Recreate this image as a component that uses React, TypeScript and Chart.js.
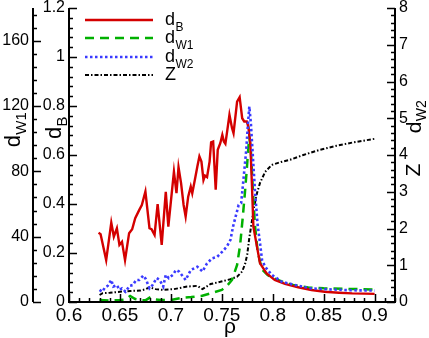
import React, { useEffect, useRef } from "react";
import { Chart, registerables } from "chart.js";

Chart.register(...registerables);

// ---- data ----
const rhoB = [0.629, 0.631, 0.6365, 0.6415, 0.644, 0.647, 0.6495, 0.652, 0.655, 0.659, 0.662, 0.665, 0.669, 0.6715, 0.675, 0.679, 0.681, 0.684, 0.687, 0.691, 0.695, 0.6975, 0.7, 0.703, 0.7055, 0.7075, 0.71, 0.7125, 0.7145, 0.717, 0.7195, 0.721, 0.7235, 0.726, 0.728, 0.73, 0.732, 0.7335, 0.7355, 0.738, 0.7395, 0.7415, 0.744, 0.746, 0.7485, 0.7505, 0.752, 0.7535, 0.755, 0.7575, 0.76, 0.7615, 0.765, 0.7675, 0.77, 0.772, 0.7745, 0.776, 0.778, 0.7795, 0.781, 0.7845, 0.7875, 0.794, 0.802, 0.812, 0.825, 0.838, 0.851, 0.865, 0.878, 0.89, 0.9];
const dB = [0.283, 0.277, 0.171, 0.324, 0.267, 0.301, 0.233, 0.246, 0.171, 0.281, 0.297, 0.342, 0.376, 0.396, 0.451, 0.301, 0.297, 0.274, 0.4, 0.233, 0.45, 0.308, 0.41, 0.532, 0.444, 0.55, 0.485, 0.396, 0.349, 0.43, 0.471, 0.444, 0.498, 0.553, 0.594, 0.573, 0.498, 0.516, 0.51, 0.573, 0.652, 0.655, 0.458, 0.621, 0.648, 0.682, 0.655, 0.646, 0.689, 0.764, 0.71, 0.689, 0.818, 0.836, 0.75, 0.737, 0.737, 0.716, 0.648, 0.486, 0.308, 0.226, 0.158, 0.117, 0.09, 0.074, 0.06, 0.049, 0.042, 0.038, 0.035, 0.034, 0.033];

const rhoW1 = [0.63, 0.64, 0.65, 0.655, 0.66, 0.665, 0.67, 0.675, 0.68, 0.685, 0.69, 0.7, 0.71, 0.72, 0.73, 0.74, 0.75, 0.755, 0.76, 0.765, 0.768, 0.7705, 0.7725, 0.7745, 0.776, 0.777, 0.7785, 0.7805, 0.7825, 0.785, 0.7875, 0.79, 0.795, 0.8, 0.81, 0.82, 0.835, 0.85, 0.875, 0.9];
const dW1 = [1.2, 0.9, 1.2, 1.5, 3.7, 1.8, 1.2, 1.0, 3.0, 1.5, 1.2, 1.2, 2.5, 3.0, 3.7, 5.5, 7.4, 9.8, 13.5, 22.7, 35, 51.5, 65.6, 81, 94.4, 101, 93, 68.6, 47.2, 31.9, 24.5, 19.6, 16.5, 14.7, 12.3, 10.4, 8.9, 8.4, 8.0, 7.7];

const rhoW2 = [0.63, 0.6325, 0.6355, 0.638, 0.6415, 0.6435, 0.647, 0.6495, 0.652, 0.6555, 0.6595, 0.6625, 0.666, 0.669, 0.673, 0.6755, 0.679, 0.682, 0.686, 0.689, 0.6925, 0.695, 0.698, 0.702, 0.705, 0.708, 0.7145, 0.7195, 0.726, 0.731, 0.7355, 0.7405, 0.7455, 0.7505, 0.755, 0.7585, 0.761, 0.764, 0.7665, 0.769, 0.7715, 0.774, 0.7755, 0.777, 0.7785, 0.7805, 0.7825, 0.785, 0.7875, 0.7895, 0.7925, 0.799, 0.809, 0.822, 0.838, 0.851, 0.875, 0.9];
const dW2 = [0.33, 0.28, 0.4, 0.44, 0.6, 0.42, 0.46, 0.33, 0.37, 0.28, 0.44, 0.46, 0.6, 0.6, 0.72, 0.62, 0.37, 0.46, 0.65, 0.6, 0.42, 0.74, 0.65, 0.74, 0.87, 0.83, 0.6, 0.87, 0.96, 0.83, 1.05, 1.19, 1.23, 1.37, 1.51, 1.69, 2.05, 2.37, 2.64, 2.69, 3.41, 4.14, 4.78, 5.32, 4.87, 3.96, 3.05, 2.14, 1.6, 1.14, 0.96, 0.74, 0.55, 0.46, 0.37, 0.35, 0.32, 0.31];

const rhoZ = [0.63, 0.633, 0.64, 0.65, 0.66, 0.67, 0.6755, 0.679, 0.685, 0.692, 0.703, 0.716, 0.726, 0.731, 0.739, 0.7485, 0.7585, 0.765, 0.77, 0.773, 0.775, 0.777, 0.779, 0.7815, 0.7845, 0.7875, 0.7925, 0.799, 0.808, 0.817, 0.83, 0.846, 0.8625, 0.8785, 0.9];
const zVals = [0.19, 0.24, 0.25, 0.28, 0.3, 0.31, 0.35, 0.4, 0.35, 0.33, 0.35, 0.42, 0.44, 0.35, 0.49, 0.55, 0.62, 0.69, 0.83, 1.05, 1.3, 1.75, 2.1, 2.56, 2.96, 3.24, 3.54, 3.73, 3.81, 3.87, 4.0, 4.14, 4.25, 4.34, 4.44];

// ticks
const xTicks = [0.6, 0.65, 0.7, 0.75, 0.8, 0.85, 0.9];
const dBTicks = [0, 0.2, 0.4, 0.6, 0.8, 1, 1.2];
const dW1Ticks = [0, 40, 80, 120, 160];
const rightTicks = [0, 1, 2, 3, 4, 5, 6, 7, 8];

const FONT = '"Liberation Sans", Arial, Helvetica, sans-serif';

function pts(xs: number[], ys: number[]) {
  return xs.map((x, i) => ({ x, y: ys[i] }));
}

function drawSubText(
  ctx: CanvasRenderingContext2D,
  x: number,
  y: number,
  main: string,
  sub: string,
  size: number,
  rotate: boolean,
  align: "center" | "left"
) {
  ctx.save();
  ctx.translate(x, y);
  if (rotate) ctx.rotate(-Math.PI / 2);
  const subSize = Math.round(size * 0.68);
  ctx.font = `${size}px ${FONT}`;
  const w1 = ctx.measureText(main).width;
  ctx.font = `${subSize}px ${FONT}`;
  const w2 = sub ? ctx.measureText(sub).width : 0;
  const start = align === "center" ? -(w1 + w2) / 2 : 0;
  ctx.textBaseline = "alphabetic";
  ctx.textAlign = "left";
  ctx.fillStyle = "#000";
  ctx.font = `${size}px ${FONT}`;
  ctx.fillText(main, start, size * 0.36);
  if (sub) {
    ctx.font = `${subSize}px ${FONT}`;
    ctx.fillText(sub, start + w1 + 0.5, size * 0.36 + size * 0.28);
  }
  ctx.restore();
}

const decoPlugin = {
  id: "deco",
  afterDraw(chart: any) {
    const ctx: CanvasRenderingContext2D = chart.ctx;
    const { left, right, top, bottom } = chart.chartArea;
    const sx = chart.scales.x;
    const sB = chart.scales.yB;
    const sW = chart.scales.yW1;
    const sR = chart.scales.yR;
    const wLeft = sW.right;
    ctx.save();
    ctx.strokeStyle = "#000";
    ctx.lineCap = "butt";
    // axis lines
    ctx.lineWidth = 2;
    ctx.beginPath();
    ctx.moveTo(left, top);
    ctx.lineTo(left, bottom);
    ctx.moveTo(left - 1, bottom);
    ctx.lineTo(right + 1, bottom);
    ctx.moveTo(right, bottom);
    ctx.lineTo(right, top);
    ctx.moveTo(wLeft, bottom);
    ctx.lineTo(wLeft, top);
    ctx.stroke();

    ctx.lineWidth = 1.5;
    ctx.beginPath();
    // x ticks (inward, up)
    for (let i = 0; i <= 32; i++) {
      const v = 0.6 + i * 0.01;
      const px = Math.round(sx.getPixelForValue(v)) + 0.5;
      const len = i % 5 === 0 ? 8 : 4;
      ctx.moveTo(px, bottom);
      ctx.lineTo(px, bottom - len);
    }
    // d_B ticks (inward, right)
    for (let i = 0; i <= 30; i++) {
      const v = i * 0.04;
      const py = Math.round(sB.getPixelForValue(v)) + 0.5;
      const len = i % 5 === 0 ? 8 : 4;
      ctx.moveTo(left, py);
      ctx.lineTo(left + len, py);
    }
    // d_W1 ticks (right side of its own axis)
    for (let i = 0; i <= 22; i++) {
      const v = i * 8;
      const py = Math.round(sW.getPixelForValue(v)) + 0.5;
      const len = i % 5 === 0 ? 8 : 4;
      ctx.moveTo(wLeft, py);
      ctx.lineTo(wLeft + len, py);
    }
    // right axis ticks (inward, left)
    for (let i = 0; i <= 40; i++) {
      const v = i * 0.2;
      const py = Math.round(sR.getPixelForValue(v)) + 0.5;
      const len = i % 5 === 0 ? 8 : 4;
      ctx.moveTo(right, py);
      ctx.lineTo(right - len, py);
    }
    ctx.stroke();

    // axis titles
    drawSubText(ctx, 12, 130, "d", "W1", 22, true, "center");
    drawSubText(ctx, 53, 128, "d", "B", 22, true, "center");
    drawSubText(ctx, 413, 117, "d", "W2", 21, true, "center");
    drawSubText(ctx, 412, 170, "Z", "", 21, true, "center");
    ctx.font = `21px ${FONT}`;
    ctx.textAlign = "center";
    ctx.textBaseline = "alphabetic";
    ctx.fillStyle = "#000";
    ctx.fillText("\u03c1", (left + right) / 2 - 2, 333);

    // legend
    const rows = [
      { main: "d", sub: "B", color: "#d40000", dash: [], width: 2.5 },
      { main: "d", sub: "W1", color: "#00b000", dash: [9, 6], width: 2.5 },
      { main: "d", sub: "W2", color: "#3a3aff", dash: [2.5, 2.5], width: 2.5 },
      { main: "Z", sub: "", color: "#000", dash: [4, 2, 1.5, 2], width: 2 },
    ];
    const ys = [20, 38, 57, 75];
    rows.forEach((r, i) => {
      ctx.save();
      ctx.strokeStyle = r.color;
      ctx.lineWidth = r.width;
      ctx.setLineDash(r.dash);
      ctx.beginPath();
      ctx.moveTo(85, ys[i]);
      ctx.lineTo(153, ys[i]);
      ctx.stroke();
      ctx.restore();
      drawSubText(ctx, 165, ys[i] - 1, r.main, r.sub, 18, false, "left");
    });
    ctx.restore();
  },
};

export default function App() {
  const ref = useRef<HTMLCanvasElement | null>(null);
  useEffect(() => {
    if (!ref.current) return;
    const fix = (dim: "width" | "height", val: number) => (scale: any) => {
      scale[dim] = val;
      scale.paddingTop = 0;
      scale.paddingBottom = 0;
      scale.paddingLeft = 0;
      scale.paddingRight = 0;
    };
    const tickFont = { family: FONT, size: 16 };
    const chart = new Chart(ref.current, {
      type: "line",
      data: {
        datasets: [
          {
            label: "dW2",
            data: pts(rhoW2, dW2),
            yAxisID: "yR",
            borderColor: "#3a3aff",
            borderWidth: 2.6,
            borderDash: [2.5, 2.5],
            pointRadius: 0,
            order: 0,
          },
          {
            label: "dB",
            data: pts(rhoB, dB),
            yAxisID: "yB",
            borderColor: "#d40000",
            borderWidth: 2.4,
            pointRadius: 0,
            order: 1,
          },
          {
            label: "dW1",
            data: pts(rhoW1, dW1),
            yAxisID: "yW1",
            borderColor: "#00b000",
            borderWidth: 2.5,
            borderDash: [9, 6],
            pointRadius: 0,
            order: 2,
          },
          {
            label: "Z",
            data: pts(rhoZ, zVals),
            yAxisID: "yR",
            borderColor: "#000000",
            borderWidth: 2,
            borderDash: [4, 2, 1.5, 2],
            pointRadius: 0,
            order: 3,
          },
        ],
      },
      options: {
        animation: false,
        responsive: false,
        devicePixelRatio: 1,
        layout: { padding: { top: 8, left: 0, right: 0, bottom: 0 } },
        plugins: { legend: { display: false }, tooltip: { enabled: false } },
        elements: { line: { tension: 0, borderCapStyle: "butt" } },
        scales: {
          x: {
            type: "linear",
            min: 0.6,
            max: 0.92,
            afterBuildTicks: (s: any) => {
              s.ticks = xTicks.map((v) => ({ value: v }));
            },
            afterFit: fix("height", 36),
            grid: { display: false, drawTicks: false },
            border: { display: false },
            ticks: {
              font: { family: FONT, size: 19 },
              color: "#000",
              padding: 2,
              maxRotation: 0,
              autoSkip: false,
              callback: (v: any) => String(+Number(v).toFixed(2)),
            },
          },
          yB: {
            type: "linear",
            position: "left",
            weight: 0,
            min: 0,
            max: 1.2,
            afterBuildTicks: (s: any) => {
              s.ticks = dBTicks.map((v) => ({ value: v }));
            },
            afterFit: fix("width", 36),
            grid: { display: false, drawTicks: false },
            border: { display: false },
            ticks: {
              font: tickFont,
              color: "#000",
              padding: 4,
              autoSkip: false,
              callback: (v: any) => String(+Number(v).toFixed(2)),
            },
          },
          yW1: {
            type: "linear",
            position: "left",
            weight: 1,
            min: 0,
            max: 180,
            afterBuildTicks: (s: any) => {
              s.ticks = dW1Ticks.map((v) => ({ value: v }));
            },
            afterFit: fix("width", 33),
            grid: { display: false, drawTicks: false },
            border: { display: false },
            ticks: {
              font: tickFont,
              color: "#000",
              padding: 4,
              autoSkip: false,
              callback: (v: any) => String(v),
            },
          },
          yR: {
            type: "linear",
            position: "right",
            min: 0,
            max: 8,
            afterBuildTicks: (s: any) => {
              s.ticks = rightTicks.map((v) => ({ value: v }));
            },
            afterFit: fix("width", 34),
            grid: { display: false, drawTicks: false },
            border: { display: false },
            ticks: {
              font: tickFont,
              color: "#000",
              padding: 4,
              autoSkip: false,
              callback: (v: any) => String(v),
            },
          },
        },
      },
      plugins: [decoPlugin],
    } as any);
    return () => chart.destroy();
  }, []);

  return (
    <div style={{ position: "absolute", left: 0, top: 0, width: 429, height: 338, background: "#fff" }}>
      <canvas ref={ref} width={429} height={338} style={{ display: "block" }} />
    </div>
  );
}
